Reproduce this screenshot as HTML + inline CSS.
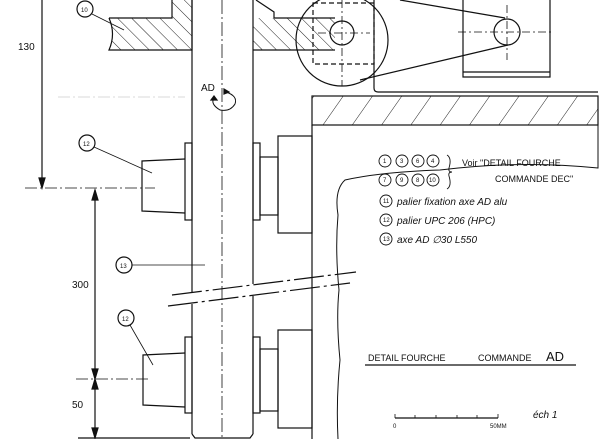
<!DOCTYPE html>
<html><head><meta charset="utf-8"><style>
html,body{margin:0;padding:0;background:#fff;}
svg{display:block;}
text{font-family:"Liberation Sans",sans-serif;fill:#111;}
</style></head><body>
<svg width="605" height="439" viewBox="0 0 605 439" xmlns="http://www.w3.org/2000/svg">
<defs>
<pattern id="h1" width="10" height="10" patternUnits="userSpaceOnUse" patternTransform="rotate(-45)">
<line x1="0" y1="0" x2="0" y2="10" stroke="#222" stroke-width="1"/></pattern>
<pattern id="h2" width="24" height="24" patternUnits="userSpaceOnUse" patternTransform="rotate(35)">
<line x1="0" y1="0" x2="0" y2="24" stroke="#222" stroke-width="1"/></pattern>
</defs>
<rect width="605" height="439" fill="#fff"/>
<g stroke="#111" stroke-width="1.2" fill="none">
<!-- piece 10 -->
<path d="M109 18 H172 V0 M192 0 V50 H109 Q116 34 109 18" />
<path d="M172 18 V0 H192 V50 H109 Q116 34 109 18 H172Z" fill="url(#h1)" stroke="none"/>
<path d="M256 0 L274 12 V18" />
<rect x="253" y="18" width="82" height="32" fill="url(#h1)" stroke="none"/>
<path d="M274 18 H335 M253 50 H335"/>
<!-- shaft -->
<line x1="192" y1="0" x2="192" y2="292"/><line x1="192" y1="304" x2="192" y2="434"/>
<line x1="253" y1="0" x2="253" y2="284"/><line x1="253" y1="296" x2="253" y2="434"/>
<path d="M192 434 L195 438 H250 L253 434"/>
<line x1="222" y1="0" x2="222" y2="438" stroke-dasharray="14 3 2 3" stroke-width="0.8"/>
<!-- big circle -->
<circle cx="342" cy="40" r="46"/>
<rect x="313" y="3" width="61" height="61" stroke-dasharray="5 3"/>
<circle cx="342" cy="33" r="12"/>
<line x1="318" y1="33" x2="370" y2="33" stroke-dasharray="8 3 2 3" stroke-width="0.8"/>
<line x1="342" y1="0" x2="342" y2="86" stroke-dasharray="8 3 2 3" stroke-width="0.8"/>
<!-- right structure -->
<path d="M463 0 V77 H550 V0"/>
<line x1="463" y1="72" x2="550" y2="72"/>
<circle cx="507" cy="32" r="13"/>
<line x1="458" y1="32" x2="552" y2="32" stroke-dasharray="8 3 2 3" stroke-width="0.8"/>
<line x1="507" y1="5" x2="507" y2="60" stroke-dasharray="8 3 2 3" stroke-width="0.8"/>
<line x1="400" y1="0" x2="505" y2="18"/>
<line x1="360" y1="80" x2="508" y2="45"/>
<path d="M374 0 V88 Q374 92 378 92 H598"/>
<!-- hatched plate -->
<rect x="312" y="96" width="286" height="29" fill="url(#h2)"/>
<!-- frame -->
<line x1="312" y1="125" x2="312" y2="439"/>
<path d="M338 439 Q336 400 340 360 Q336 320 339 290 Q335 250 338 215 Q334 190 345 180 Q380 172 440 170 Q520 160 598 168 V125" stroke-width="1"/>
<!-- upper bearing -->
<rect x="278" y="136" width="34" height="97"/>
<rect x="253" y="143" width="7" height="77"/>
<rect x="260" y="157" width="18" height="58"/>
<rect x="185" y="143" width="7" height="77"/>
<path d="M185 159 L142 161 V211 L185 213"/>
<!-- lower bearing -->
<rect x="278" y="330" width="34" height="98"/>
<rect x="253" y="337" width="7" height="76"/>
<rect x="260" y="349" width="18" height="62"/>
<rect x="185" y="337" width="7" height="76"/>
<path d="M185 353 L143 355 V405 L185 407"/>
<!-- break lines -->
<line x1="172" y1="295" x2="356" y2="272" stroke-dasharray="30 4 3 4"/>
<line x1="168" y1="306" x2="350" y2="283" stroke-dasharray="30 4 3 4"/>
<!-- centerlines -->
<line x1="25" y1="188" x2="155" y2="188" stroke-dasharray="12 3 2 3" stroke-width="0.8"/>
<line x1="76" y1="379" x2="150" y2="379" stroke-dasharray="12 3 2 3" stroke-width="0.8"/>
<line x1="58" y1="97" x2="185" y2="97" stroke="#ccc" stroke-dasharray="12 3 2 3" stroke-width="0.8"/>
<!-- dimensions -->
<line x1="42" y1="0" x2="42" y2="186"/>
<path d="M39 178 L42 188 L45 178Z" fill="#111"/>
<line x1="95" y1="190" x2="95" y2="438"/>
<path d="M92 200 L95 190 L98 200Z" fill="#111"/>
<path d="M92 369 L95 379 L98 369Z M92 389 L95 379 L98 389Z" fill="#111"/>
<path d="M92 428 L95 438 L98 428Z" fill="#111"/>
<line x1="78" y1="438" x2="190" y2="438"/>
<!-- labels -->
<circle cx="85" cy="9" r="8"/><line x1="92" y1="14" x2="124" y2="30" stroke-width="0.8"/>
<circle cx="87" cy="143" r="8"/><line x1="94" y1="147" x2="152" y2="173" stroke-width="0.8"/>
<circle cx="124" cy="265" r="8"/><line x1="132" y1="265" x2="205" y2="265" stroke-width="0.8"/>
<circle cx="126" cy="318" r="8"/><line x1="130" y1="325" x2="153" y2="365" stroke-width="0.8"/>
<!-- rotation arrow -->
<path d="M226 92 Q238 96 235 104 Q230 112 220 110 Q210 104 214 98" stroke-width="1"/>
<path d="M224 89 L229 92 L224 94Z M211 100 L214 96 L217 100Z" fill="#111"/>
<!-- legend circles -->
<g stroke-width="0.9">
<circle cx="385" cy="161" r="6"/><circle cx="402" cy="161" r="6"/><circle cx="418" cy="161" r="6"/><circle cx="433" cy="161" r="6"/>
<circle cx="385" cy="180" r="6"/><circle cx="402" cy="180" r="6"/><circle cx="418" cy="180" r="6"/><circle cx="433" cy="180" r="6"/>
<circle cx="386" cy="201" r="6"/><circle cx="386" cy="220" r="6"/><circle cx="386" cy="239" r="6"/>
</g>
<path d="M447 155 Q452 158 449 168 Q448 172 452 172 Q448 172 449 176 Q452 186 447 189" stroke-width="0.9"/>
<!-- title underline and scale -->
<line x1="365" y1="365" x2="576" y2="365"/>
<line x1="395" y1="418" x2="498" y2="418"/>
<path d="M395 414 V418 M415 415 V418 M436 415 V418 M457 415 V418 M477 415 V418 M498 414 V418" stroke-width="0.8"/>
</g>
<g font-size="8">
<text x="81" y="12" font-size="6">10</text>
<text x="83" y="146" font-size="6">12</text>
<text x="120" y="268" font-size="6">13</text>
<text x="122" y="321" font-size="6">12</text>
<text x="18" y="50" font-size="10">130</text>
<text x="72" y="288" font-size="10">300</text>
<text x="72" y="408" font-size="10">50</text>
<text x="201" y="91" font-size="10">AD</text>
<g font-size="6"><text x="383" y="163">1</text><text x="400" y="163">3</text><text x="416" y="163">6</text><text x="431" y="163">4</text>
<text x="383" y="182">7</text><text x="400" y="182">9</text><text x="416" y="182">8</text><text x="429" y="182">10</text>
<text x="383" y="203">11</text><text x="383" y="222">12</text><text x="383" y="241">13</text></g>
<text x="462" y="166" font-size="9">Voir "DETAIL FOURCHE</text>
<text x="495" y="182" font-size="9">COMMANDE DEC"</text>
<text x="397" y="205" font-size="10" font-style="italic">palier fixation axe AD alu</text>
<text x="397" y="224" font-size="10" font-style="italic">palier UPC 206 (HPC)</text>
<text x="397" y="243" font-size="10" font-style="italic">axe AD ∅30 L550</text>
<text x="368" y="361" font-size="9">DETAIL FOURCHE</text>
<text x="478" y="361" font-size="9">COMMANDE</text>
<text x="546" y="361" font-size="13">AD</text>
<text x="393" y="428" font-size="6">0</text>
<text x="490" y="428" font-size="6">50MM</text>
<text x="533" y="418" font-size="10" font-style="italic">éch 1</text>
</g>
</svg>
</body></html>
